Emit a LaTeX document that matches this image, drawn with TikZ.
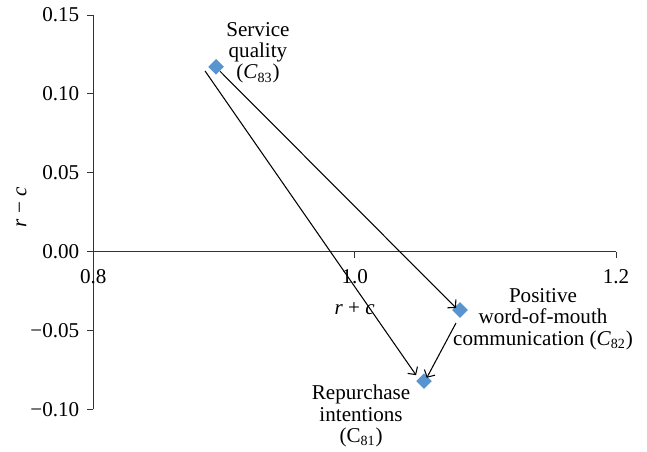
\documentclass[tikz,border=0pt]{standalone}
\usepackage{fontspec}
\setmainfont{Liberation Serif}
\usetikzlibrary{shapes.geometric,arrows.meta}
\definecolor{markerblue}{RGB}{88,148,207}

\begin{document}
\begin{tikzpicture}[x=26.135cm, y=31.54cm, line width=0.6pt,
    >={Straight Barb[length=1.1mm,width=2.4mm]},
    every node/.style={font=\fontsize{12}{12.2}\selectfont}]
    \tikzstyle{marker}=[diamond, fill=markerblue, minimum size=0.32cm, inner sep=0pt]
    \tikzstyle{annot}=[align=center, anchor=north, inner sep=0pt]
    \tikzstyle{ticklabel}=[inner sep=0pt]
    \tikzstyle{axis}=[draw=black!80]
    \useasboundingbox (0.7286,-0.12644) rectangle (1.2237,0.15954);

    %%% DRAW THE AXES
    \draw[axis] (0.8,-0.10) -- (0.8,0.15);
    \draw[axis] (0.8,0) -- (1.2,0);
    \foreach \name / \y / \lab in {1/0.15/0.15, 2/0.10/0.10, 3/0.05/0.05, 4/0.00/0.00, 5/-0.05/{−0.05}, 6/-0.10/{−0.10}}
        \draw[axis] (0.8,\y) -- ++(-0.12cm,0) node[ticklabel, left=0.15cm] (Y-\name) {\lab};
    \foreach \name / \x in {1/0.8, 2/1.0, 3/1.2}
        \draw[axis] (\x,0) -- ++(0,-0.12cm) node[ticklabel, below=0.23cm] (X-\name) {\x};
    \node[anchor=base] (xtitle) at (1.0,-0.0396) {\textit{r} + \textit{c}};
    \node[rotate=90] (ytitle) at (0.7451,0.0283) {\textit{r} − \textit{c}};

    %%% DRAW THE NODES
    \node[marker] (C83) at (0.8939,0.1172) {};
    \node[marker] (C82) at (1.0806,-0.0370) {};
    \node[marker] (C81) at (1.0531,-0.0821) {};

    \node[annot] (L83) at (0.9260,0.1459) {Service\\quality\\(\textit{C}\textsubscript{83})};
    \node[annot] (L82) at (1.1441,-0.0231) {Positive\\word-of-mouth\\communication (\textit{C}\textsubscript{82})};
    \node[annot] (L81) at (1.0049,-0.0843) {Repurchase\\intentions\\(C\textsubscript{81})};

    %%% DRAW THE PATHS
    \draw[->] ([shift={(-0.22cm,-0.084cm)}]C83.center) -- ([shift={(-0.16cm,0.12cm)}]C81.center);
    \draw[->] ([shift={(0.08cm,-0.09cm)}]C83.center) -- ([shift={(-0.08cm,0.04cm)}]C82.center);
    \draw[->] ([shift={(-0.08cm,-0.26cm)}]C82.center) -- ([shift={(0.054cm,0.066cm)}]C81.center);

\end{tikzpicture}
\end{document}
